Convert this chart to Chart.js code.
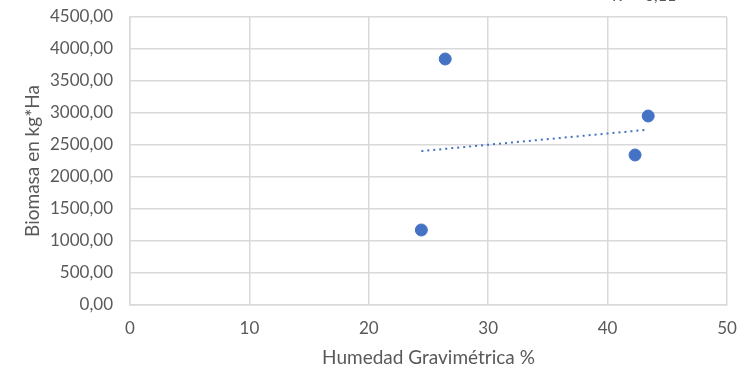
<!DOCTYPE html>
<html>
<head>
<meta charset="utf-8">
<script src="https://cdn.jsdelivr.net/npm/chart.js@4/dist/chart.umd.min.js"></script>
<style>
html,body{margin:0;padding:0;background:#fff;}
canvas{display:block;}
</style>
</head>
<body>
<canvas id="c" width="744" height="371"></canvas>
<script>
const humedad = [24.4, 26.4, 42.3, 43.4];
const biomasa = [1172, 3844, 2344, 2953];
const trendX = [24.4, 43.4];
const trendY = [2405, 2740];
const xTicks = [0, 10, 20, 30, 40, 50];
const yTicks = [0, 500, 1000, 1500, 2000, 2500, 3000, 3500, 4000, 4500];
const xTitle = 'Humedad Gravimétrica %';
const yTitle = 'Biomasa en kg*Ha';
const r2Label = 'R² = 0,11';

const FONT = 'Lato, "Open Sans", sans-serif';
const GRID = '#d9d9d9';
const TXT = '#595959';
const BLUE = '#4472C4';

const r2Plugin = {
  id: 'r2',
  afterDraw(chart) {
    const ctx = chart.ctx;
    ctx.save();
    ctx.font = '16px ' + FONT;
    ctx.fillStyle = TXT;
    ctx.textBaseline = 'bottom';
    ctx.textAlign = 'left';
    ctx.fillText(r2Label, 612, 4);
    ctx.restore();
  }
};

new Chart(document.getElementById('c'), {
  type: 'scatter',
  data: {
    datasets: [
      {
        type: 'line',
        data: trendX.map((x, i) => ({x: x, y: trendY[i]})),
        borderColor: BLUE,
        borderWidth: 2,
        borderDash: [2, 4],
        pointRadius: 0,
        fill: false,
        tension: 0
      },
      {
        data: humedad.map((x, i) => ({x: x, y: biomasa[i]})),
        backgroundColor: BLUE,
        borderColor: BLUE,
        pointRadius: 6,
        pointHoverRadius: 6
      }
    ]
  },
  options: {
    responsive: false,
    animation: false,
    events: [],
    layout: {padding: {top: 17, right: 17, left: 0, bottom: 0}},
    plugins: {legend: {display: false}, tooltip: {enabled: false}},
    scales: {
      x: {
        type: 'linear',
        min: 0, max: 50,
        afterBuildTicks: s => { s.ticks = xTicks.map(v => ({value: v})); },
        afterFit: s => { s.height = 66; s.paddingLeft = 0; s.paddingRight = 0; },
        grid: {color: GRID, lineWidth: 1.5, drawTicks: false},
        border: {color: GRID, width: 1.5},
        ticks: {color: TXT, font: {family: FONT, size: 17}, padding: 13, maxRotation: 0},
        title: {display: true, text: xTitle, color: TXT, font: {family: FONT, size: 19}, padding: {top: 0, bottom: 2}}
      },
      y: {
        type: 'linear',
        min: 0, max: 4500,
        afterBuildTicks: s => { s.ticks = yTicks.map(v => ({value: v})); },
        afterFit: s => { s.width = 130; s.paddingTop = 0; s.paddingBottom = 0; },
        grid: {color: GRID, lineWidth: 1.5, drawTicks: false},
        border: {color: GRID, width: 1.5},
        ticks: {
          color: TXT, font: {family: FONT, size: 17}, padding: 17,
          callback: v => v.toFixed(2).replace('.', ',')
        },
        title: {display: true, text: yTitle, color: TXT, font: {family: FONT, size: 19}, padding: {top: 21, bottom: 0}}
      }
    }
  },
  plugins: [r2Plugin]
});
</script>
</body>
</html>
